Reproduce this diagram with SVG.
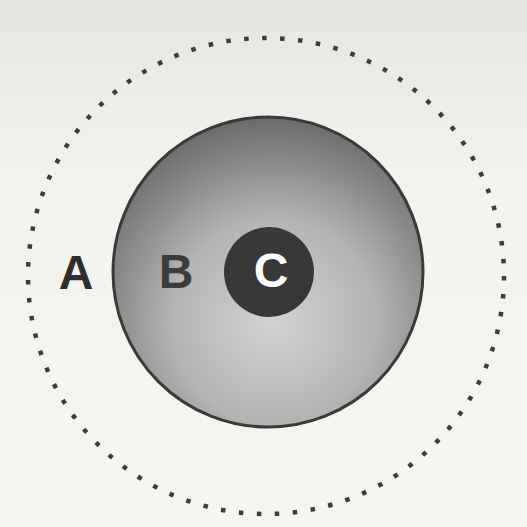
<svg xmlns="http://www.w3.org/2000/svg" width="527" height="527" viewBox="0 0 527 527">
  <style>
    .lbl { font-family: "Liberation Sans", Arial, sans-serif; font-weight: bold; font-size: 48px; text-anchor: middle; }
  </style>
  <defs>
    <radialGradient id="gB" cx="0.52" cy="0.66" r="0.66">
      <stop offset="0" stop-color="#d2d2d0"/>
      <stop offset="0.5" stop-color="#b4b4b2"/>
      <stop offset="1" stop-color="#6a6a6a"/>
    </radialGradient>
    <linearGradient id="bg" x1="0" y1="0" x2="0" y2="1">
      <stop offset="0" stop-color="#e6e6e0"/>
      <stop offset="0.35" stop-color="#f3f3ee"/>
      <stop offset="1" stop-color="#f6f6f1"/>
    </linearGradient>
  </defs>
  <rect x="0" y="0" width="527" height="527" fill="url(#bg)"/>
  <g id="A">
    <circle cx="266" cy="276" r="238" fill="none" stroke="#3c3c3c" stroke-width="4.5" stroke-dasharray="4.5 13.52"/>
    <text class="lbl" x="76" y="289" fill="#2e2e2e">A</text>
  </g>
  <g id="B">
    <circle cx="268" cy="272" r="155" fill="url(#gB)" stroke="#3a3a3a" stroke-width="3"/>
    <text class="lbl" x="176" y="288" fill="#3c3c3c">B</text>
  </g>
  <g id="C">
    <circle cx="269" cy="272" r="45" fill="#383838"/>
    <text class="lbl" x="271" y="287" fill="#ffffff">C</text>
  </g>
  <g id="connectors"/>
</svg>
